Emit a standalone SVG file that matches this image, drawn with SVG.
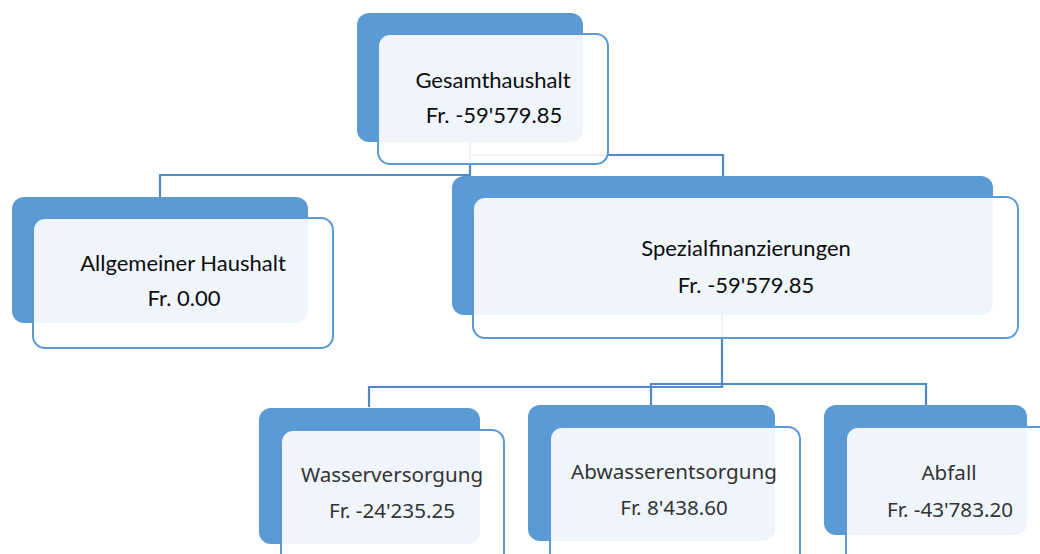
<svg xmlns="http://www.w3.org/2000/svg" width="1040" height="554" viewBox="0 0 1040 554">
<style>
.back{fill:#5b9bd5}
.front{fill:#ffffff;fill-opacity:0.9;stroke:#5b9bd5;stroke-width:2}
.conn{fill:none;stroke:#4f89c8;stroke-width:2.2}
.t1{font-family:Lato,"Liberation Sans",sans-serif;font-size:22px;fill:#0d0d0d;text-anchor:middle}
.t2{font-family:"Noto Sans","Liberation Sans",sans-serif;font-size:20.6px;fill:#333;text-anchor:middle}
</style>
<rect width="1040" height="554" fill="#ffffff"/>
<g id="connectors">
<path class="conn" d="M470 142 V175 H160 V197"/>
<path class="conn" d="M470 142 V155 H723 V176"/>
<path class="conn" d="M722 315 V387 H369 V407"/>
<path class="conn" d="M722 387 V384 H651 V405 M722 384 H926 V405"/>
</g>
<g id="n-gesamt">
<rect class="back" x="357" y="13" width="226" height="129" rx="12"/>
<rect class="front" x="378" y="34" width="230" height="130" rx="12"/>
<text class="t1" x="493" y="88">Gesamthaushalt</text>
<text class="t1" x="494" y="123">Fr. -59'579.85</text>
</g>
<g id="n-allgemein">
<rect class="back" x="12" y="197" width="296" height="126" rx="12"/>
<rect class="front" x="33" y="218" width="300" height="130" rx="12"/>
<text class="t1" x="183" y="271">Allgemeiner Haushalt</text>
<text class="t1" x="184" y="306">Fr. 0.00</text>
</g>
<g id="n-spezial">
<rect class="back" x="452" y="176" width="541" height="139" rx="12"/>
<rect class="front" x="473" y="197" width="545" height="141" rx="12"/>
<text class="t1" x="746" y="256">Spezialfinanzierungen</text>
<text class="t1" x="746" y="293">Fr. -59'579.85</text>
</g>
<g id="n-wasser">
<rect class="back" x="259" y="408" width="221" height="136" rx="12"/>
<rect class="front" x="281" y="430" width="223" height="140" rx="12"/>
<text class="t2" x="392" y="482">Wasserversorgung</text>
<text class="t2" x="392" y="518">Fr. -24'235.25</text>
</g>
<g id="n-abwasser">
<rect class="back" x="528" y="405" width="247" height="136" rx="12"/>
<rect class="front" x="550" y="427" width="250" height="140" rx="12"/>
<text class="t2" x="674" y="479">Abwasserentsorgung</text>
<text class="t2" x="674" y="515">Fr. 8'438.60</text>
</g>
<g id="n-abfall">
<rect class="back" x="824" y="405" width="203" height="130" rx="12"/>
<rect class="front" x="846" y="427" width="220" height="140" rx="12"/>
<text class="t2" x="949" y="480">Abfall</text>
<text class="t2" x="950" y="517">Fr. -43'783.20</text>
</g>
</svg>
